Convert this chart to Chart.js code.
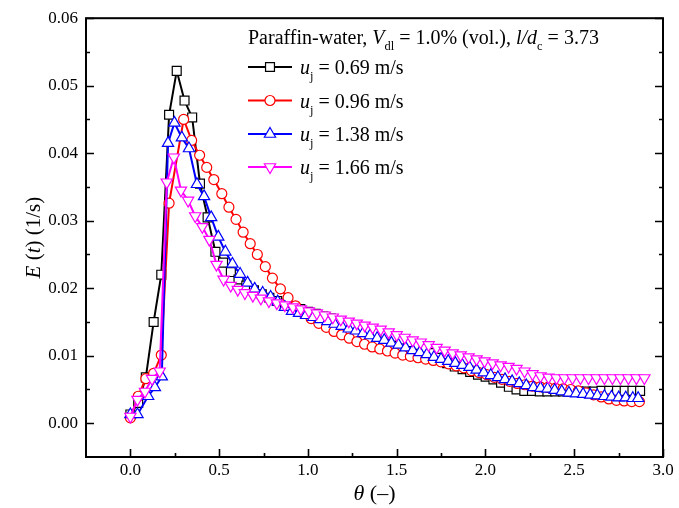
<!DOCTYPE html>
<html><head><meta charset="utf-8">
<script src="https://cdn.jsdelivr.net/npm/chart.js@4/dist/chart.umd.min.js"></script>
<style>html,body{margin:0;padding:0;background:#fff}canvas{display:block}</style>
</head><body>
<canvas id="c" width="679" height="508"></canvas>
<script>
// ---- data ----
const seriesLabels = ["0.69", "0.96", "1.38", "1.66"];
const xTickValues = [0, 0.5, 1.0, 1.5, 2.0, 2.5, 3.0];
const yTickValues = [0, 0.01, 0.02, 0.03, 0.04, 0.05, 0.06];

const theta069 = [0.000,0.044,0.087,0.131,0.174,0.218,0.261,0.305,0.348,0.392,0.435,0.479,0.522,0.566,0.609,0.653,0.696,0.740,0.783,0.827,0.870,0.914,0.957,1.001,1.044,1.088,1.131,1.175,1.218,1.262,1.305,1.349,1.392,1.436,1.479,1.523,1.566,1.610,1.653,1.697,1.740,1.784,1.827,1.871,1.914,1.958,2.001,2.045,2.088,2.132,2.175,2.219,2.262,2.306,2.349,2.393,2.436,2.480,2.523,2.567,2.610,2.654,2.697,2.741,2.784,2.828,2.871];
const e069 = [0.0013,0.0030,0.0068,0.0150,0.0220,0.0457,0.0522,0.0478,0.0453,0.0355,0.0305,0.0254,0.0238,0.0224,0.0213,0.0204,0.0197,0.0191,0.0186,0.0181,0.0177,0.0173,0.0169,0.0165,0.0162,0.0158,0.0155,0.0151,0.0148,0.0144,0.0141,0.0138,0.0135,0.0131,0.0128,0.0124,0.0120,0.0116,0.0111,0.0104,0.0097,0.0089,0.0084,0.0080,0.0076,0.0072,0.0069,0.0065,0.0060,0.0054,0.0050,0.0048,0.0048,0.0047,0.0047,0.0047,0.0047,0.0047,0.0047,0.0047,0.0047,0.0048,0.0048,0.0048,0.0048,0.0048,0.0048];

const theta096 = [0.000,0.044,0.087,0.131,0.174,0.218,0.300,0.345,0.390,0.430,0.470,0.515,0.555,0.595,0.635,0.675,0.715,0.760,0.800,0.845,0.888,0.930,0.975,1.018,1.061,1.104,1.147,1.190,1.233,1.276,1.319,1.362,1.405,1.448,1.491,1.534,1.577,1.620,1.663,1.706,1.749,1.792,1.835,1.878,1.921,1.964,2.007,2.050,2.093,2.136,2.179,2.222,2.265,2.308,2.351,2.394,2.437,2.480,2.523,2.566,2.609,2.652,2.695,2.738,2.781,2.824,2.867];
const e096 = [0.0008,0.0040,0.0066,0.0074,0.0101,0.0326,0.0450,0.0419,0.0397,0.0379,0.0361,0.0340,0.0320,0.0302,0.0283,0.0266,0.0250,0.0232,0.0215,0.0199,0.0186,0.0174,0.0163,0.0155,0.0148,0.0142,0.0136,0.0131,0.0126,0.0121,0.0117,0.0113,0.0110,0.0107,0.0104,0.0101,0.0099,0.0097,0.0095,0.0093,0.0091,0.0088,0.0085,0.0082,0.0078,0.0075,0.0072,0.0068,0.0065,0.0062,0.0059,0.0057,0.0055,0.0054,0.0053,0.0052,0.0051,0.0050,0.0048,0.0045,0.0042,0.0039,0.0036,0.0034,0.0033,0.0032,0.0032];

const theta138 = [0.000,0.040,0.100,0.138,0.177,0.212,0.248,0.290,0.330,0.375,0.415,0.455,0.495,0.535,0.575,0.618,0.660,0.700,0.745,0.790,0.830,0.870,0.910,0.950,0.990,1.030,1.070,1.110,1.150,1.190,1.230,1.270,1.310,1.350,1.390,1.430,1.470,1.510,1.550,1.590,1.630,1.670,1.710,1.750,1.790,1.830,1.870,1.910,1.950,1.990,2.030,2.070,2.110,2.150,2.190,2.230,2.270,2.310,2.350,2.390,2.430,2.470,2.510,2.550,2.590,2.630,2.670,2.710,2.750,2.790,2.830,2.860];
const e138 = [0.0013,0.0013,0.0040,0.0053,0.0069,0.0415,0.0445,0.0423,0.0407,0.0354,0.0336,0.0305,0.0276,0.0254,0.0236,0.0221,0.0208,0.0199,0.0193,0.0187,0.0180,0.0172,0.0166,0.0163,0.0160,0.0157,0.0154,0.0151,0.0147,0.0144,0.0140,0.0137,0.0133,0.0130,0.0126,0.0123,0.0119,0.0116,0.0112,0.0108,0.0105,0.0102,0.0098,0.0095,0.0092,0.0089,0.0086,0.0083,0.0079,0.0075,0.0071,0.0068,0.0065,0.0062,0.0059,0.0056,0.0053,0.0052,0.0051,0.0049,0.0047,0.0045,0.0044,0.0043,0.0042,0.0041,0.0040,0.0039,0.0038,0.0038,0.0037,0.0037];

const theta166 = [0.000,0.040,0.082,0.122,0.165,0.205,0.245,0.285,0.325,0.365,0.405,0.445,0.485,0.525,0.565,0.605,0.645,0.690,0.735,0.780,0.825,0.870,0.915,0.960,1.005,1.050,1.095,1.140,1.185,1.230,1.275,1.320,1.365,1.410,1.455,1.500,1.545,1.590,1.635,1.680,1.725,1.770,1.815,1.860,1.905,1.950,1.995,2.040,2.085,2.130,2.175,2.220,2.265,2.310,2.355,2.400,2.445,2.490,2.535,2.580,2.625,2.670,2.715,2.760,2.805,2.850,2.895];
const e166 = [0.0010,0.0035,0.0047,0.0066,0.0077,0.0357,0.0394,0.0345,0.0330,0.0307,0.0291,0.0272,0.0235,0.0213,0.0204,0.0198,0.0193,0.0189,0.0185,0.0181,0.0178,0.0175,0.0172,0.0169,0.0166,0.0163,0.0160,0.0157,0.0154,0.0151,0.0148,0.0145,0.0142,0.0139,0.0135,0.0131,0.0127,0.0123,0.0120,0.0116,0.0112,0.0108,0.0104,0.0101,0.0098,0.0095,0.0092,0.0089,0.0086,0.0084,0.0081,0.0077,0.0073,0.0070,0.0068,0.0067,0.0067,0.0067,0.0067,0.0067,0.0067,0.0067,0.0067,0.0067,0.0067,0.0067,0.0067];

// ---- styling ----
const SERIF = '"Liberation Serif", "Times New Roman", serif';
const styles = [
  {color:'#000000', pointStyle:'rect', radius:6.3, rot:0, order:3},
  {color:'#ff0000', pointStyle:'circle', radius:5, rot:0, order:2},
  {color:'#0000ff', pointStyle:'triangle', radius:6.5, rot:0, order:1},
  {color:'#ff00ff', pointStyle:'triangle', radius:6.5, rot:180, order:0}
];
const thetas = [theta069, theta096, theta138, theta166];
const values = [e069, e096, e138, e166];

const datasets = seriesLabels.map((lab, i) => ({
  label: 'uj = ' + lab + ' m/s',
  data: thetas[i].map((t, k) => ({x: t, y: values[i][k]})),
  showLine: true,
  borderColor: styles[i].color,
  borderWidth: 2,
  pointStyle: styles[i].pointStyle,
  pointRotation: styles[i].rot,
  pointRadius: styles[i].radius,
  pointBorderColor: styles[i].color,
  pointBackgroundColor: '#ffffff',
  pointBorderWidth: 1.2,
  backgroundColor: '#ffffff',
  order: styles[i].order,
  tension: 0
}));

function drawRich(ctx, segs, x, y, size) {
  let cx = x;
  for (const s of segs) {
    const fs = s.sub ? size * 0.62 : size;
    ctx.font = (s.italic ? 'italic ' : '') + fs + 'px ' + SERIF;
    ctx.fillText(s.t, cx, y + (s.sub ? size * 0.3 : 0));
    cx += ctx.measureText(s.t).width;
  }
  return cx - x;
}
function richWidth(ctx, segs, size) {
  let w = 0;
  for (const s of segs) {
    const fs = s.sub ? size * 0.62 : size;
    ctx.font = (s.italic ? 'italic ' : '') + fs + 'px ' + SERIF;
    w += ctx.measureText(s.t).width;
  }
  return w;
}

const decorPlugin = {
  id: 'decor',
  afterDraw(chart) {
    const ctx = chart.ctx;
    const a = chart.chartArea;
    const xs = chart.scales.x, ys = chart.scales.y;
    ctx.save();
    ctx.strokeStyle = '#000';
    ctx.lineWidth = 1.6;
    // ticks
    ctx.beginPath();
    for (let v = 0; v <= 3.0001; v += 0.25) {
      const px = Math.round(xs.getPixelForValue(v)) + 0.5;
      const major = Math.abs(v * 2 - Math.round(v * 2)) < 1e-6;
      const L = major ? 8 : 4;
      ctx.moveTo(px, a.bottom); ctx.lineTo(px, a.bottom - L);
    }
    for (let v = 0; v <= 0.0601; v += 0.005) {
      const py = Math.round(ys.getPixelForValue(v)) + 0.5;
      const major = Math.abs(v * 100 - Math.round(v * 100)) < 1e-6;
      const L = major ? 8 : 4;
      ctx.moveTo(a.left, py); ctx.lineTo(a.left + L, py);
      ctx.moveTo(a.right, py); ctx.lineTo(a.right - L, py);
    }
    ctx.stroke();
    // frame
    ctx.lineWidth = 2;
    ctx.strokeRect(a.left, a.top, a.right - a.left, a.bottom - a.top);

    ctx.fillStyle = '#000';
    ctx.textBaseline = 'alphabetic';
    // x title
    const xt = [{t:'\u03B8', italic:true}, {t:' (\u2013)'}];
    const xw = richWidth(ctx, xt, 22);
    drawRich(ctx, xt, (a.left + a.right) / 2 - xw / 2, 500, 22);
    // y title (rotated)
    const yt = [{t:'E', italic:true}, {t:' ('}, {t:'t', italic:true}, {t:') (1/s)'}];
    const yw = richWidth(ctx, yt, 21);
    ctx.save();
    ctx.translate(40, (a.top + a.bottom) / 2);
    ctx.rotate(-Math.PI / 2);
    drawRich(ctx, yt, -yw / 2, 0, 21);
    ctx.restore();

    // legend
    const lx = 248;
    drawRich(ctx, [
      {t:'Paraffin-water, '}, {t:'V', italic:true}, {t:'dl', sub:true},
      {t:' = 1.0% (vol.), '}, {t:'l/d', italic:true}, {t:'c', sub:true}, {t:' = 3.73'}
    ], lx, 44, 20);
    const rowY = [67, 100.5, 134, 167];
    chart.data.datasets.forEach((ds, i) => {
      const y = rowY[i];
      ctx.strokeStyle = ds.borderColor;
      ctx.lineWidth = 2;
      ctx.beginPath(); ctx.moveTo(lx, y); ctx.lineTo(lx + 44, y); ctx.stroke();
      ctx.fillStyle = '#ffffff';
      ctx.strokeStyle = ds.borderColor;
      ctx.lineWidth = 1.2;
      Chart.helpers.drawPoint(ctx, {pointStyle: ds.pointStyle, rotation: ds.pointRotation, radius: ds.pointRadius, borderWidth: 1.2}, lx + 22, y);
      ctx.fillStyle = '#000';
      drawRich(ctx, [{t:'u', italic:true}, {t:'j', sub:true}, {t:' = ' + seriesLabels[i] + ' m/s'}], lx + 52, y + 7, 20);
    });
    ctx.restore();
  }
};

new Chart(document.getElementById('c'), {
  type: 'scatter',
  data: {datasets},
  options: {
    responsive: false,
    animation: false,
    events: [],
    layout: {padding: {top: 16, right: 16, left: 0, bottom: 0}},
    plugins: {legend: {display: false}, tooltip: {enabled: false}},
    scales: {
      x: {
        type: 'linear', min: -0.25, max: 3.0,
        grid: {display: false, drawTicks: false},
        border: {display: false},
        ticks: {font: {family: SERIF, size: 17}, color: '#000', padding: 3,
                callback: v => Number(v).toFixed(1), maxRotation: 0, autoSkip: false},
        afterBuildTicks: s => { s.ticks = xTickValues.map(v => ({value: v})); },
        afterFit: s => { s.height = 51; }
      },
      y: {
        type: 'linear', min: -0.005, max: 0.06,
        grid: {display: false, drawTicks: false},
        border: {display: false},
        ticks: {font: {family: SERIF, size: 17}, color: '#000', padding: 8,
                callback: v => Number(v).toFixed(2), autoSkip: false},
        afterBuildTicks: s => { s.ticks = yTickValues.map(v => ({value: v})); },
        afterFit: s => { s.width = 86; }
      }
    }
  },
  plugins: [decorPlugin]
});
</script>
</body></html>
